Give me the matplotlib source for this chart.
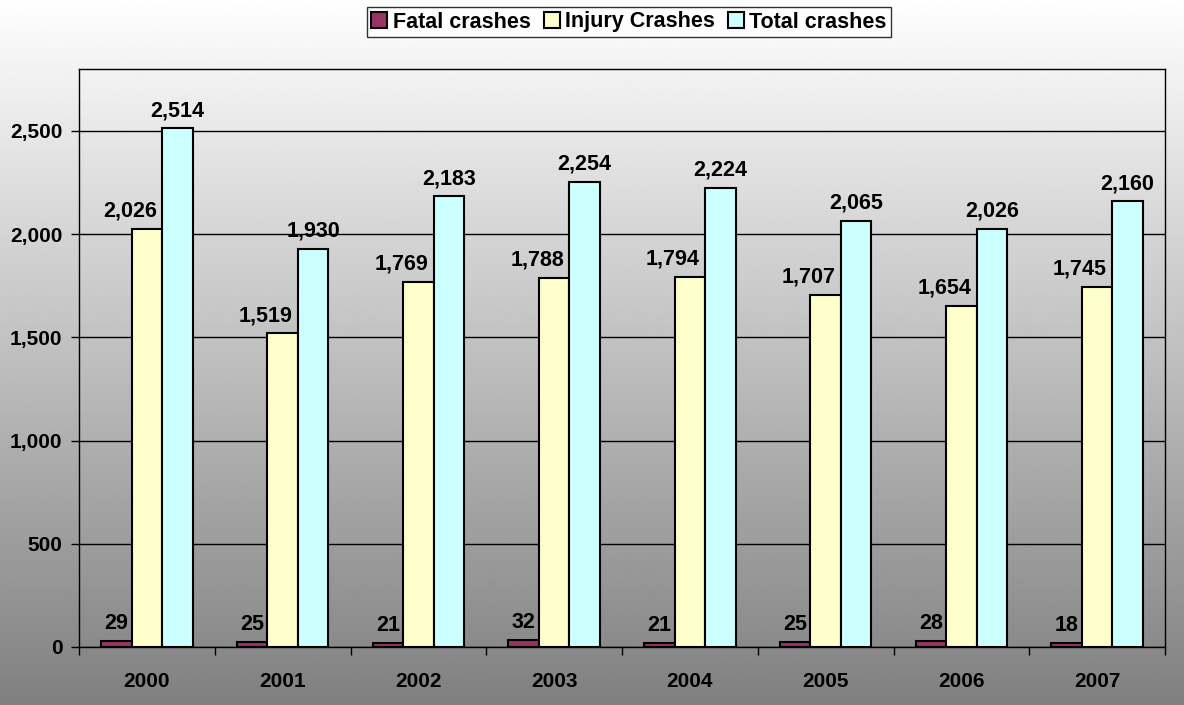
import numpy as np
import matplotlib.pyplot as plt

years = ["2000", "2001", "2002", "2003", "2004", "2005", "2006", "2007"]
fatal = [29, 25, 21, 32, 21, 25, 28, 18]
injury = [2026, 1519, 1769, 1788, 1794, 1707, 1654, 1745]
total = [2514, 1930, 2183, 2254, 2224, 2065, 2026, 2160]

series = [
    ("Fatal crashes", fatal, "#993366"),
    ("Injury Crashes", injury, "#FFFFCC"),
    ("Total crashes", total, "#CCFFFF"),
]
# horizontal nudge of the value labels, in pixels
label_dx = [0, -17, 0]

plt.rcParams["font.family"] = ["Liberation Sans", "DejaVu Sans"]
plt.rcParams["font.weight"] = "bold"

fig = plt.figure(figsize=(11.84, 7.05), dpi=100)

# gradient background over the whole figure
bg = fig.add_axes([0, 0, 1, 1], zorder=-10)
grad = np.linspace(1.0, 0.5, 256).reshape(-1, 1)
bg.imshow(grad, aspect="auto", cmap="gray", vmin=0, vmax=1, extent=[0, 1, 0, 1])
bg.axis("off")

ax = fig.add_axes([79 / 1184, 1 - 647 / 705, (1165 - 79) / 1184, (647 - 69) / 705])
ax.patch.set_alpha(0)

x = np.arange(len(years))
width = 0.225
for i, (name, vals, color) in enumerate(series):
    pos = x + (i - 1) * width
    ax.bar(pos, vals, width, color=color, edgecolor="black", linewidth=1.5,
           label=name, zorder=3)
    for px, v in zip(pos, vals):
        ax.annotate(f"{v:,}", (px, v), xytext=(label_dx[i] * 0.72, 5),
                    textcoords="offset points", ha="center", va="bottom",
                    fontsize=15.5, fontweight="bold", zorder=6)

ax.set_xlim(-0.5, len(years) - 0.5)
ax.set_ylim(0, 2800)
ax.set_yticks(np.arange(0, 2501, 500))
ax.yaxis.set_major_formatter(plt.FuncFormatter(lambda v, p: f"{int(v):,}"))
ax.set_xticks(x)
ax.set_xticklabels(years)
ax.set_xticks(np.arange(-0.5, len(years), 1), minor=True)
ax.tick_params(axis="x", which="major", length=0, pad=18, labelsize=15)
ax.tick_params(axis="x", which="minor", length=6, direction="out", width=1)
ax.tick_params(axis="y", length=6, direction="out", width=1, labelsize=15, pad=6)
for lbl in ax.get_xticklabels() + ax.get_yticklabels():
    lbl.set_fontweight("bold")

ax.grid(axis="y", color="black", linewidth=1, zorder=0)
for s in ax.spines.values():
    s.set_color("black")
    s.set_linewidth(1)

leg = fig.legend(loc="center", bbox_to_anchor=(629 / 1184, 1 - 22 / 705), ncol=3,
                 frameon=True, fancybox=False, edgecolor="black",
                 prop={"size": 15.5, "weight": "bold"}, handlelength=0.75,
                 handleheight=0.75, handletextpad=0.25, columnspacing=0.6,
                 borderpad=0.2, borderaxespad=0)
leg.get_frame().set_linewidth(1)
leg.get_frame().set_facecolor("white")

fig.savefig("out.png", dpi=100)
